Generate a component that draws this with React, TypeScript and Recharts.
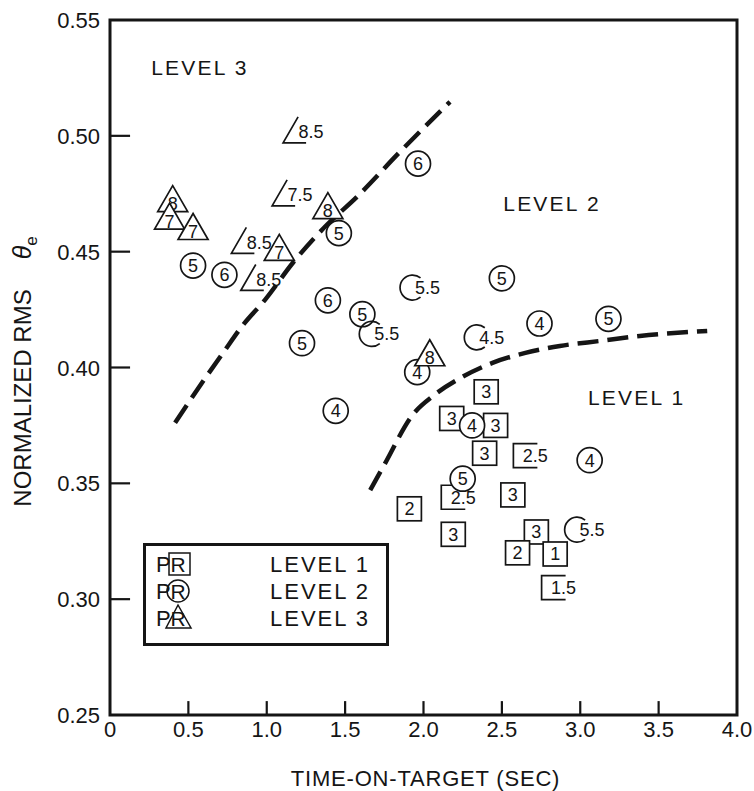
import React from 'react';
import { ScatterChart, Scatter, XAxis, YAxis, ReferenceArea, ReferenceLine, Legend } from 'recharts';

const INK = '#151515';
const FONT = '"Liberation Sans", Arial, Helvetica, sans-serif';

// pilot ratings, LEVEL 1 (squares)
const level1 = [
  { t: 2.40, rms: 0.3895, pr: '3' },
  { t: 2.18, rms: 0.378, pr: '3' },
  { t: 2.46, rms: 0.375, pr: '3' },
  { t: 2.39, rms: 0.363, pr: '3' },
  { t: 2.65, rms: 0.362, pr: '2.5' },
  { t: 2.19, rms: 0.344, pr: '2.5' },
  { t: 1.91, rms: 0.339, pr: '2' },
  { t: 2.57, rms: 0.345, pr: '3' },
  { t: 2.19, rms: 0.328, pr: '3' },
  { t: 2.72, rms: 0.329, pr: '3' },
  { t: 2.60, rms: 0.320, pr: '2' },
  { t: 2.84, rms: 0.3195, pr: '1' },
  { t: 2.83, rms: 0.305, pr: '1.5' },
];

// LEVEL 2 (circles)
const level2 = [
  { t: 0.53, rms: 0.444, pr: '5' },
  { t: 0.73, rms: 0.440, pr: '6' },
  { t: 1.46, rms: 0.458, pr: '5' },
  { t: 1.965, rms: 0.488, pr: '6' },
  { t: 1.39, rms: 0.429, pr: '6' },
  { t: 1.61, rms: 0.423, pr: '5' },
  { t: 1.67, rms: 0.4145, pr: '5.5' },
  { t: 1.93, rms: 0.4345, pr: '5.5' },
  { t: 2.50, rms: 0.4385, pr: '5' },
  { t: 2.34, rms: 0.413, pr: '4.5' },
  { t: 2.74, rms: 0.419, pr: '4' },
  { t: 3.18, rms: 0.421, pr: '5' },
  { t: 1.225, rms: 0.4105, pr: '5' },
  { t: 1.96, rms: 0.398, pr: '4' },
  { t: 1.44, rms: 0.3813, pr: '4' },
  { t: 2.31, rms: 0.375, pr: '4' },
  { t: 3.06, rms: 0.360, pr: '4' },
  { t: 2.25, rms: 0.352, pr: '5' },
  { t: 2.98, rms: 0.330, pr: '5.5' },
];

// LEVEL 3 (triangles)
const level3 = [
  { t: 1.20, rms: 0.5017, pr: '8.5' },
  { t: 0.40, rms: 0.472, pr: '8' },
  { t: 0.38, rms: 0.4645, pr: '7' },
  { t: 0.53, rms: 0.460, pr: '7' },
  { t: 1.13, rms: 0.4745, pr: '7.5' },
  { t: 1.39, rms: 0.469, pr: '8' },
  { t: 0.87, rms: 0.454, pr: '8.5' },
  { t: 1.08, rms: 0.451, pr: '7' },
  { t: 0.93, rms: 0.438, pr: '8.5' },
  { t: 2.04, rms: 0.4055, pr: '8' },
];

// dashed boundary between level 3 and level 2
const boundary23 = [
  { t: 0.415, rms: 0.3761 },
  { t: 0.587, rms: 0.3934 },
  { t: 0.721, rms: 0.4063 },
  { t: 0.849, rms: 0.4184 },
  { t: 0.989, rms: 0.4292 },
  { t: 1.167, rms: 0.4452 },
  { t: 1.384, rms: 0.4616 },
  { t: 1.576, rms: 0.4737 },
  { t: 1.850, rms: 0.4931 },
  { t: 2.169, rms: 0.5147 },
];

// dashed boundary between level 2 and level 1
const boundary12 = [
  { t: 1.66, rms: 0.3471 },
  { t: 1.75, rms: 0.358 },
  { t: 1.93, rms: 0.3795 },
  { t: 2.07, rms: 0.3882 },
  { t: 2.25, rms: 0.396 },
  { t: 2.44, rms: 0.402 },
  { t: 2.65, rms: 0.4063 },
  { t: 2.87, rms: 0.4093 },
  { t: 3.13, rms: 0.4115 },
  { t: 3.38, rms: 0.4136 },
  { t: 3.81, rms: 0.4158 },
];

const regionLabels = [
  { t: 0.574, rms: 0.5294, text: 'LEVEL 3' },
  { t: 2.82, rms: 0.471, text: 'LEVEL 2' },
  { t: 3.36, rms: 0.387, text: 'LEVEL 1' },
];

const legendLevels = ['LEVEL 1', 'LEVEL 2', 'LEVEL 3'];
const xTicks = [0, 0.5, 1, 1.5, 2, 2.5, 3, 3.5, 4];
const yTicks = [0.25, 0.3, 0.35, 0.4, 0.45, 0.5, 0.55];

const STROKE = 1.7;

const MarkText = ({ x, y, text }: any) => (
  <text x={x} y={y} dy="0.36em" textAnchor="middle" fontFamily={FONT} fontSize={18} fill={INK}>
    {text}
  </text>
);

const SquareMark = (p: any) => {
  const { cx, cy, payload } = p;
  const half = payload.pr.includes('.');
  const s = 12;
  return (
    <g>
      {half ? (
        <path d={`M${cx + s},${cy - s} H${cx - s} V${cy + s} H${cx + s}`} fill="none" stroke={INK} strokeWidth={STROKE} />
      ) : (
        <rect x={cx - s} y={cy - s} width={s * 2} height={s * 2} fill="#fff" stroke={INK} strokeWidth={STROKE} />
      )}
      <MarkText x={half ? cx + 10 : cx} y={cy} text={payload.pr} />
    </g>
  );
};

const CircleMark = (p: any) => {
  const { cx, cy, payload } = p;
  const half = payload.pr.includes('.');
  const r = 12.5;
  const ax = cx + r * 0.64;
  const ay = r * 0.77;
  return (
    <g>
      {half ? (
        <path d={`M${ax},${cy - ay} A${r},${r} 0 1 0 ${ax},${cy + ay}`} fill="none" stroke={INK} strokeWidth={STROKE} />
      ) : (
        <circle cx={cx} cy={cy} r={r} fill="#fff" stroke={INK} strokeWidth={STROKE} />
      )}
      <MarkText x={half ? cx + 15 : cx} y={cy} text={payload.pr} />
    </g>
  );
};

const TriangleMark = (p: any) => {
  const { cx, cy, payload } = p;
  const half = payload.pr.includes('.');
  return (
    <g>
      {half ? (
        <path d={`M${cx},${cy - 15} L${cx - 15},${cy + 11} L${cx + 8},${cy + 11}`} fill="none" stroke={INK} strokeWidth={STROKE} />
      ) : (
        <path d={`M${cx},${cy - 15} L${cx - 15},${cy + 11} L${cx + 15},${cy + 11} Z`} fill="#fff" stroke={INK} strokeWidth={STROKE} />
      )}
      <MarkText x={half ? cx + 13 : cx} y={half ? cy : cy + 3} text={payload.pr} />
    </g>
  );
};

const RegionText = (p: any) => (
  <text x={p.cx} y={p.cy} dy="0.36em" textAnchor="middle" fontFamily={FONT} fontSize={21} letterSpacing={2.2} fill={INK}>
    {p.payload.text}
  </text>
);

const NoDot = () => <g />;

const XTick = (p: any) => {
  const { x, y, payload } = p;
  const v = payload.value;
  return (
    <text x={x} y={y + 22} textAnchor="middle" fontFamily={FONT} fontSize={22} fill={INK}>
      {v === 0 ? '0' : v.toFixed(1)}
    </text>
  );
};

const YTick = (p: any) => {
  const { x, y, payload } = p;
  return (
    <text x={x - 10} y={y + 8} textAnchor="end" fontFamily={FONT} fontSize={22} fill={INK}>
      {payload.value.toFixed(2)}
    </text>
  );
};

const XTitle = (p: any) => {
  const vb = p.viewBox || { x: 110, y: 715, width: 627, height: 76 };
  return (
    <text x={vb.x + vb.width / 2 + 2} y={vb.y + 71} textAnchor="middle" fontFamily={FONT} fontSize={22} letterSpacing={0.8} fill={INK}>
      TIME-ON-TARGET (SEC)
    </text>
  );
};

const YTitle = (p: any) => {
  const vb = p.viewBox || { x: 0, y: 20, width: 110, height: 695 };
  const cy = vb.y + vb.height / 2 + 4;
  return (
    <text transform={`translate(31,${cy}) rotate(-90)`} textAnchor="middle" fontFamily={FONT} fontSize={24} fill={INK}>
      NORMALIZED RMS
      <tspan dx={30} fontStyle="italic" fontSize={25}>θ</tspan>
      <tspan dy={6} fontSize={17}>e</tspan>
    </text>
  );
};

const LegendBox = () => (
  <svg width={246} height={103} style={{ display: 'block' }}>
    <rect x={1.5} y={1.5} width={243} height={100} fill="#fff" stroke={INK} strokeWidth={3} />
    {legendLevels.map((lvl, i) => {
      const cy = 21 + 27 * i;
      return (
        <g key={lvl}>
          <text x={13} y={cy + 8} fontFamily={FONT} fontSize={22} fill={INK}>P</text>
          {i === 0 && <rect x={26} y={cy - 11} width={21} height={22} fill="none" stroke={INK} strokeWidth={1.5} />}
          {i === 1 && <circle cx={35} cy={cy} r={11} fill="none" stroke={INK} strokeWidth={1.5} />}
          {i === 2 && <path d={`M${35},${cy - 13} L${23},${cy + 10} L${48},${cy + 10} Z`} fill="none" stroke={INK} strokeWidth={1.5} />}
          <text x={35} y={cy + 8} textAnchor="middle" fontFamily={FONT} fontSize={21} fill={INK}>R</text>
          <text x={127} y={cy + 8} fontFamily={FONT} fontSize={22} letterSpacing={2} fill={INK}>{lvl}</text>
        </g>
      );
    })}
  </svg>
);

export default function App() {
  return (
    <div style={{ position: 'absolute', left: 0, top: 0, width: 754, height: 791, background: '#fff' }}>
      <ScatterChart width={754} height={791} margin={{ top: 20, right: 17, bottom: 0, left: 0 }}>
        <XAxis
          type="number"
          dataKey="t"
          domain={[0, 4]}
          ticks={xTicks}
          allowDataOverflow
          height={76}
          tickSize={0}
          tickMargin={0}
          tickLine={false}
          axisLine={false}
          tick={XTick}
          label={{ content: XTitle }}
        />
        <YAxis
          type="number"
          dataKey="rms"
          domain={[0.25, 0.55]}
          ticks={yTicks}
          allowDataOverflow
          width={110}
          tickSize={0}
          tickMargin={0}
          tickLine={false}
          axisLine={false}
          tick={YTick}
          label={{ content: YTitle }}
        />
        <ReferenceArea x1={0} x2={4} y1={0.25} y2={0.55} fill="none" stroke={INK} strokeWidth={3} />
        {/* short inward tick stubs on the bottom and left axes */}
        {xTicks.slice(1, -1).map((t) => (
          <ReferenceLine
            key={`xt${t}`}
            segment={[{ x: t, y: 0.25 }, { x: t, y: 0.256 }]}
            stroke={INK}
            strokeWidth={2.2}
          />
        ))}
        {yTicks.slice(1, -1).map((v) => (
          <ReferenceLine
            key={`yt${v}`}
            segment={[{ x: 0, y: v }, { x: 0.128, y: v }]}
            stroke={INK}
            strokeWidth={2.2}
          />
        ))}
        <Scatter
          data={boundary23}
          shape={NoDot}
          line={{ stroke: INK, strokeWidth: 4.5, strokeDasharray: '21 9' }}
          lineJointType="monotoneX"
          isAnimationActive={false}
        />
        <Scatter
          data={boundary12}
          shape={NoDot}
          line={{ stroke: INK, strokeWidth: 4.5, strokeDasharray: '21 9' }}
          lineJointType="monotoneX"
          isAnimationActive={false}
        />
        <Scatter data={regionLabels} shape={RegionText} isAnimationActive={false} />
        <Scatter data={level1} shape={SquareMark} isAnimationActive={false} />
        <Scatter data={level2} shape={CircleMark} isAnimationActive={false} />
        <Scatter data={level3} shape={TriangleMark} isAnimationActive={false} />
        <Legend
          layout="horizontal"
          verticalAlign="middle"
          align="center"
          content={LegendBox}
          wrapperStyle={{ position: 'absolute', left: 143, top: 543, width: 246, height: 103 }}
        />
      </ScatterChart>
    </div>
  );
}
